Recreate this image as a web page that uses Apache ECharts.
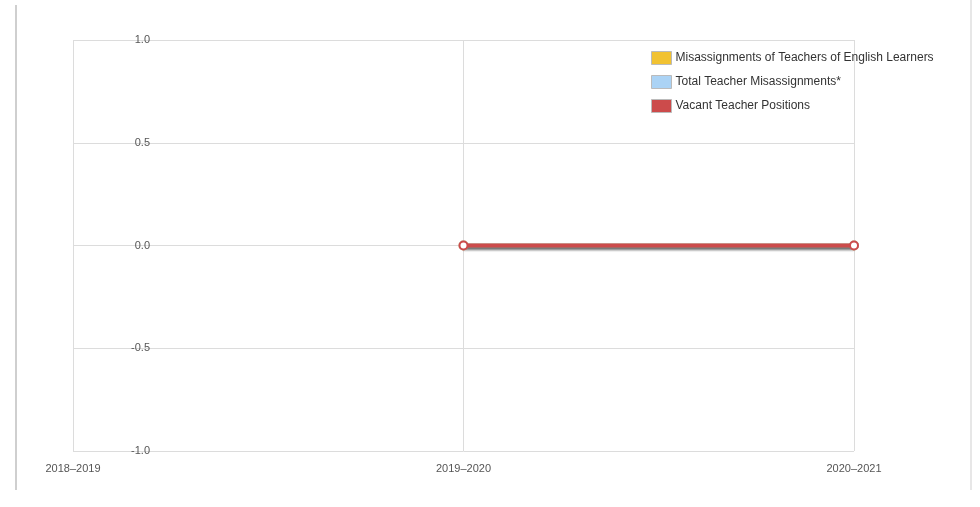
<!DOCTYPE html>
<html>
<head>
<meta charset="utf-8">
<script src="https://cdn.jsdelivr.net/npm/echarts@6/dist/echarts.min.js"></script>
<style>
  html, body { margin: 0; padding: 0; background: #fff; }
  #chart { width: 980px; height: 507px; }
</style>
</head>
<body>
<div id="chart"></div>
<script>
// data
var years = ['2018\u20132019', '2019\u20132020', '2020\u20132021']
var elMisassignments = [null, 0, 0]
var totalMisassignments = [null, 0, 0]
var vacantPositions = [null, 0, 0]
var seriesNames = [
  'Misassignments of Teachers of English Learners',
  'Total Teacher Misassignments*',
  'Vacant Teacher Positions'
]
var seriesColors = ['#f1c232', '#abd3f5', '#cc4b4b']

var font = '"Helvetica Neue", Helvetica, "Liberation Sans", Arial, sans-serif'

function lineSeries (i, data, z) {
  return {
    name: seriesNames[i],
    type: 'line',
    data: data,
    z: z,
    symbol: 'circle',
    symbolSize: 8,
    showSymbol: true,
    connectNulls: false,
    lineStyle: {
      width: 4,
      color: seriesColors[i],
      shadowColor: 'rgba(0,0,0,0.3)',
      shadowBlur: 3,
      shadowOffsetY: 2
    },
    itemStyle: {
      color: '#fff',
      borderColor: seriesColors[i],
      borderWidth: 2
    },
    emphasis: { disabled: true }
  }
}

var chart = echarts.init(document.getElementById('chart'))
var option = {
  animation: false,
  textStyle: { fontFamily: font },
  grid: { left: 73, right: 126, top: 40, bottom: 56 },
  legend: {
    orient: 'vertical',
    left: 646,
    top: 46,
    itemWidth: 20,
    itemHeight: 13,
    itemGap: 10,
    icon: 'rect',
    textStyle: { color: '#333', fontSize: 12, fontFamily: font, padding: [0, 0, 0, -1] },
    itemStyle: { borderColor: '#bbb', borderWidth: 1 },
    data: seriesNames.map(function (n, i) {
      return { name: n, itemStyle: { color: seriesColors[i] } }
    })
  },
  xAxis: {
    type: 'category',
    data: years,
    boundaryGap: false,
    axisLine: { show: false },
    axisTick: { show: false },
    splitLine: { show: true, lineStyle: { color: '#dcdcdc' } },
    axisLabel: { color: '#555', fontSize: 11, margin: 12, fontFamily: font }
  },
  yAxis: {
    type: 'value',
    min: -1,
    max: 1,
    interval: 0.5,
    axisLine: { show: false },
    axisTick: { show: false },
    splitLine: { lineStyle: { color: '#dcdcdc' } },
    axisLabel: {
      color: '#555',
      fontSize: 11,
      margin: -77,
      fontFamily: font,
      formatter: function (v) { return v.toFixed(1) }
    }
  },
  graphic: [
    { type: 'line', shape: { x1: 16, y1: 5, x2: 16, y2: 490 }, style: { stroke: '#cfcfcf', lineWidth: 2 } },
    { type: 'line', shape: { x1: 971, y1: 0, x2: 971, y2: 490 }, style: { stroke: '#cfcfcf', lineWidth: 1 } }
  ],
  series: [
    lineSeries(0, elMisassignments, 2),
    lineSeries(1, totalMisassignments, 3),
    lineSeries(2, vacantPositions, 4)
  ]
}
chart.setOption(option)
</script>
</body>
</html>
